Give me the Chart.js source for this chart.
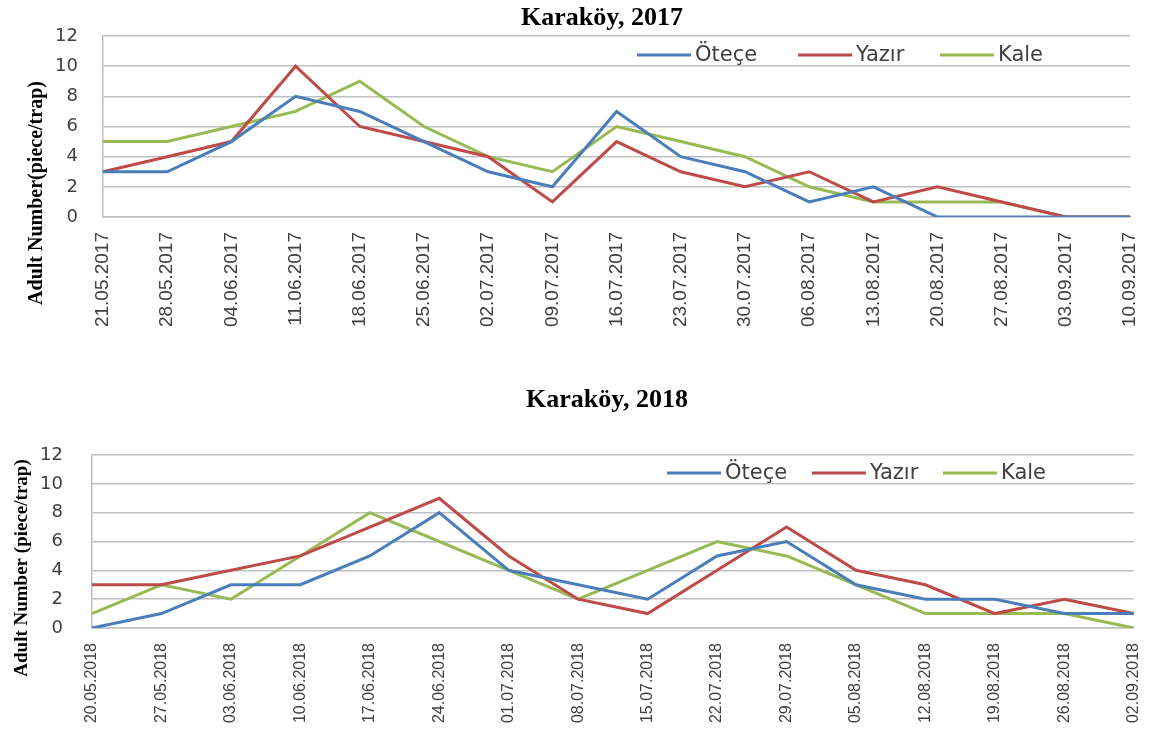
<!DOCTYPE html>
<html lang="tr">
<head>
<meta charset="utf-8">
<title>Karaköy 2017 - 2018</title>
<script src="https://cdn.jsdelivr.net/npm/chart.js@4.4.1/dist/chart.umd.min.js"></script>
<style>
    body { margin: 0; background: #fff; }
    #contenedor { position: relative; width: 1168px; height: 740px; }
    canvas { position: absolute; left: 0; }
    #grafico2017 { top: 0; }
    #grafico2018 { top: 370px; }
</style>
</head>
<body>
<div id="contenedor">
    <canvas id="grafico2017" width="1168" height="370"></canvas>
    <canvas id="grafico2018" width="1168" height="370"></canvas>
</div>
<script>
// Datos (adultos por trampa)
const fechas2017 = ["21.05.2017", "28.05.2017", "04.06.2017", "11.06.2017", "18.06.2017", "25.06.2017",
    "02.07.2017", "09.07.2017", "16.07.2017", "23.07.2017", "30.07.2017", "06.08.2017", "13.08.2017",
    "20.08.2017", "27.08.2017", "03.09.2017", "10.09.2017"];
const otece2017 = [3, 3, 5, 8, 7, 5, 3, 2, 7, 4, 3, 1, 2, 0, 0, 0, 0];
const yazir2017 = [3, 4, 5, 10, 6, 5, 4, 1, 5, 3, 2, 3, 1, 2, 1, 0, 0];
const kale2017 = [5, 5, 6, 7, 9, 6, 4, 3, 6, 5, 4, 2, 1, 1, 1, 0, 0];

const fechas2018 = ["20.05.2018", "27.05.2018", "03.06.2018", "10.06.2018", "17.06.2018", "24.06.2018",
    "01.07.2018", "08.07.2018", "15.07.2018", "22.07.2018", "29.07.2018", "05.08.2018", "12.08.2018",
    "19.08.2018", "26.08.2018", "02.09.2018"];
const otece2018 = [0, 1, 3, 3, 5, 8, 4, 3, 2, 5, 6, 3, 2, 2, 1, 1];
const yazir2018 = [3, 3, 4, 5, 7, 9, 5, 2, 1, 4, 7, 4, 3, 1, 2, 1];
const kale2018 = [1, 3, 2, 5, 8, 6, 4, 2, 4, 6, 5, 3, 1, 1, 1, 0];

const nombresSeries = ["Öteçe", "Yazır", "Kale"];
const coloresSeries = ["#4A7EBB", "#BE4B48", "#98B954"];
const ejeYMin = 0;
const ejeYMax = 12;
const ejeYPaso = 2;

// Titulo, titulo del eje Y y leyenda dibujados en posiciones fijas
const decoracion = {
    id: "decoracion",
    afterDraw(chart, args, opts) {
        const ctx = chart.ctx;
        ctx.save();
        ctx.fillStyle = "#000";
        ctx.textAlign = "center";
        ctx.textBaseline = "middle";
        ctx.font = 'bold 26px "Liberation Serif"';
        ctx.fillText(opts.titulo, opts.tituloX, opts.tituloY);

        ctx.translate(opts.ejeX, opts.ejeY);
        ctx.rotate(-Math.PI / 2);
        ctx.font = "bold " + opts.ejeTam + 'px "Liberation Serif"';
        ctx.fillText(opts.ejeTexto, 0, 0);
        ctx.restore();

        ctx.save();
        ctx.font = '21px "DejaVu Sans"';
        ctx.textAlign = "left";
        ctx.textBaseline = "middle";
        chart.data.datasets.forEach((ds, i) => {
            let x = opts.leyendaX[i];
            ctx.strokeStyle = ds.borderColor;
            ctx.lineWidth = 3;
            ctx.beginPath();
            ctx.moveTo(x, opts.leyendaY);
            ctx.lineTo(x + 54, opts.leyendaY);
            ctx.stroke();
            ctx.fillStyle = "#404040";
            ctx.fillText(ds.label, x + 58, opts.leyendaY + 1);
        });
        ctx.restore();
    }
};

function crearSeries(valores) {
    return valores.map((datos, i) => ({
        label: nombresSeries[i],
        data: datos,
        borderColor: coloresSeries[i],
        backgroundColor: coloresSeries[i],
        borderWidth: 3,
        pointRadius: 0,
        tension: 0,
        fill: false
    }));
}

function crearGrafico(id, fechas, valores, conf) {
    return new Chart(document.getElementById(id), {
        type: "line",
        data: {
            labels: fechas,
            datasets: crearSeries(valores)
        },
        options: {
            responsive: false,
            animation: false,
            devicePixelRatio: 1,
            layout: {
                padding: { top: conf.arriba, right: conf.derecha, left: 0, bottom: 0 }
            },
            plugins: {
                legend: { display: false },
                title: { display: false },
                tooltip: { enabled: false },
                decoracion: conf.decoracion
            },
            scales: {
                x: {
                    grid: { display: false, drawTicks: false },
                    border: { display: true, color: "#BFBFBF", width: 1.5 },
                    ticks: {
                        autoSkip: false,
                        maxRotation: 90,
                        minRotation: 90,
                        padding: conf.xPadding,
                        color: "#404040",
                        font: { family: "Liberation Sans", size: conf.xTam }
                    },
                    afterFit(escala) { escala.height = conf.xAlto; }
                },
                y: {
                    min: ejeYMin,
                    max: ejeYMax,
                    grid: { color: "#BFBFBF", lineWidth: 1.5, drawTicks: false },
                    border: { display: true, color: "#BFBFBF", width: 1.5 },
                    ticks: {
                        stepSize: ejeYPaso,
                        padding: conf.yPadding,
                        color: "#404040",
                        font: { family: "DejaVu Sans", size: 18 }
                    },
                    afterFit(escala) { escala.width = conf.yAncho; }
                }
            }
        },
        plugins: [decoracion]
    });
}

crearGrafico("grafico2017", fechas2017, [otece2017, yazir2017, kale2017], {
    arriba: 36, derecha: 13, xAlto: 153, yAncho: 103, xPadding: 15, yPadding: 25, xTam: 19,
    decoracion: {
        titulo: "Karaköy, 2017", tituloX: 602, tituloY: 18,
        ejeTexto: "Adult Number(piece/trap)", ejeTam: 20, ejeX: 37, ejeY: 193,
        leyendaX: [637, 798, 940], leyendaY: 55
    }
});

crearGrafico("grafico2018", fechas2018, [otece2018, yazir2018, kale2018], {
    arriba: 85, derecha: 8, xAlto: 112, yAncho: 92, xPadding: 15, yPadding: 29, xTam: 16,
    decoracion: {
        titulo: "Karaköy, 2018", tituloX: 607, tituloY: 30,
        ejeTexto: "Adult Number (piece/trap)", ejeTam: 19, ejeX: 22, ejeY: 198,
        leyendaX: [667, 812, 943], leyendaY: 103
    }
});
</script>
</body>
</html>
